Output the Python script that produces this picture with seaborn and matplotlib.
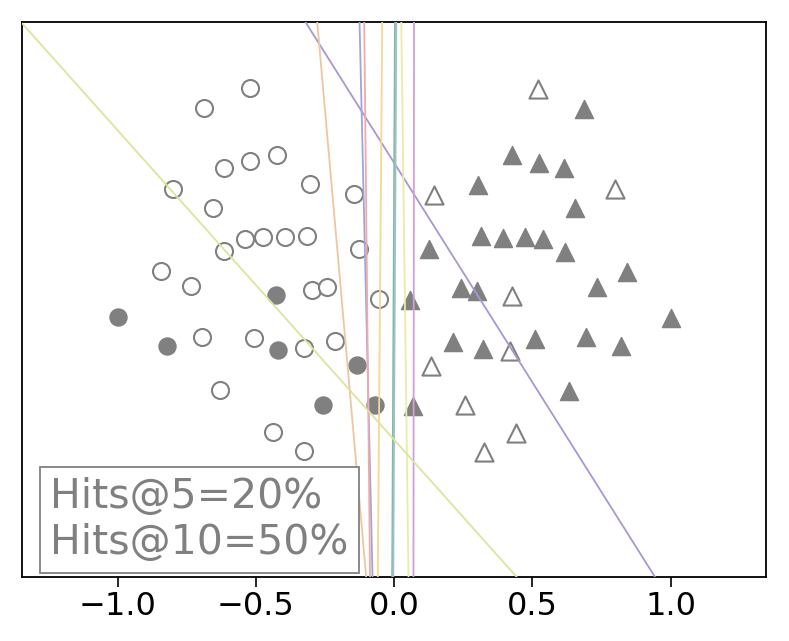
import numpy as np
import pandas as pd
import seaborn as sns
import matplotlib
matplotlib.use('Agg')
import matplotlib.pyplot as plt

# circle class (left side)
circ_x = [-0.520, -0.686, -0.614, -0.522, -0.423, -0.798, -0.654, -0.303, -0.144,
          -0.538, -0.475, -0.394, -0.314, -0.616, -0.126, -0.841, -0.733, -0.298,
          -0.242, -0.054, -0.693, -0.507, -0.325, -0.213, -0.630, -0.439, -0.325,
          -1.000, -0.820, -0.426, -0.419, -0.134, -0.256, -0.069]
circ_y = [0.762, 0.690, 0.474, 0.497, 0.521, 0.398, 0.330, 0.416, 0.380,
          0.218, 0.225, 0.223, 0.229, 0.175, 0.182, 0.101, 0.047, 0.034,
          0.043, 0.000, -0.137, -0.141, -0.177, -0.151, -0.328, -0.479, -0.548,
          -0.065, -0.168, 0.016, -0.184, -0.238, -0.380, -0.382]
circ_filled = [0] * 27 + [1] * 7

# triangle class (right side)
tri_x = [0.522, 0.686, 0.614, 0.524, 0.426, 0.800, 0.654, 0.303, 0.143,
         0.538, 0.473, 0.394, 0.314, 0.617, 0.126, 0.841, 0.733, 0.300,
         0.242, 0.058, 0.693, 0.509, 0.321, 0.213, 0.632, 0.439, 0.325,
         1.000, 0.820, 0.428, 0.419, 0.135, 0.256, 0.069]
tri_y = [0.759, 0.686, 0.474, 0.492, 0.521, 0.396, 0.330, 0.413, 0.377,
         0.218, 0.225, 0.222, 0.229, 0.171, 0.182, 0.099, 0.045, 0.031,
         0.041, -0.002, -0.135, -0.142, -0.178, -0.153, -0.330, -0.481, -0.550,
         -0.067, -0.168, 0.013, -0.186, -0.240, -0.380, -0.384]
tri_filled = [0, 1, 1, 1, 1, 0, 1, 1, 0,
              1, 1, 1, 1, 1, 1, 1, 1, 1,
              1, 1, 1, 1, 1, 1, 1, 0, 0,
              1, 1, 0, 0, 0, 0, 1]

# candidate boundaries: x where each line meets y=1 and y=-1
line_x_top = [-0.321, -0.278, -0.125, -0.108, -0.043, 0.003, 0.008, 0.026, 0.072, -1.35]
line_x_bot = [0.943, -0.101, -0.078, -0.087, -0.059, -0.007, -0.003, 0.052, 0.070, 0.443]
line_colors = ['#a996d2', '#f0c6a0', '#a0a5d7', '#f0aaaa', '#f5d796',
               '#7fbd93', '#a0bed2', '#ebeba5', '#d2a0d2', '#d8e89a']

hits_text = 'Hits@5=20%\nHits@10=50%'

df_c = pd.DataFrame({'x': circ_x, 'y': circ_y, 'filled': circ_filled})
df_t = pd.DataFrame({'x': tri_x, 'y': tri_y, 'filled': tri_filled})

sns.set_style('ticks')
plt.rcParams['font.family'] = ['DejaVu Sans']

fig, ax = plt.subplots(figsize=(7.89, 6.41), dpi=100)
fig.subplots_adjust(left=0.028, right=0.971, top=0.966, bottom=0.1)

for d, m, s in [(df_c, 'o', 150), (df_t, '^', 170)]:
    sns.scatterplot(data=d[d['filled'] == 0], x='x', y='y', marker=m, s=s,
                    facecolor='white', edgecolor='gray', linewidth=1.5, ax=ax, zorder=2)
    sns.scatterplot(data=d[d['filled'] == 1], x='x', y='y', marker=m, s=s,
                    color='gray', edgecolor='gray', linewidth=1.0, ax=ax, zorder=2)

for xt, xb, c in zip(line_x_top, line_x_bot, line_colors):
    ax.axline((xt, 1.0), (xb, -1.0), color=c, lw=1.3, zorder=3)

ax.set_xlim(-1.345, 1.345)
ax.set_ylim(-1, 1)
ax.set_xticks([-1.0, -0.5, 0.0, 0.5, 1.0])
ax.set_yticks([])
ax.set_xlabel('')
ax.set_ylabel('')
ax.tick_params(axis='x', labelsize=23, length=7, width=1.2, colors='black')
for sp in ax.spines.values():
    sp.set_color('black')
    sp.set_linewidth(1.3)

ax.text(0.038, 0.025, hits_text, transform=ax.transAxes, fontsize=29.5, color='gray',
        ha='left', va='bottom', linespacing=1.2, zorder=5,
        bbox=dict(boxstyle='square,pad=0.25', facecolor='white', edgecolor='gray', lw=1.3))

plt.savefig('out.png', dpi=100)
